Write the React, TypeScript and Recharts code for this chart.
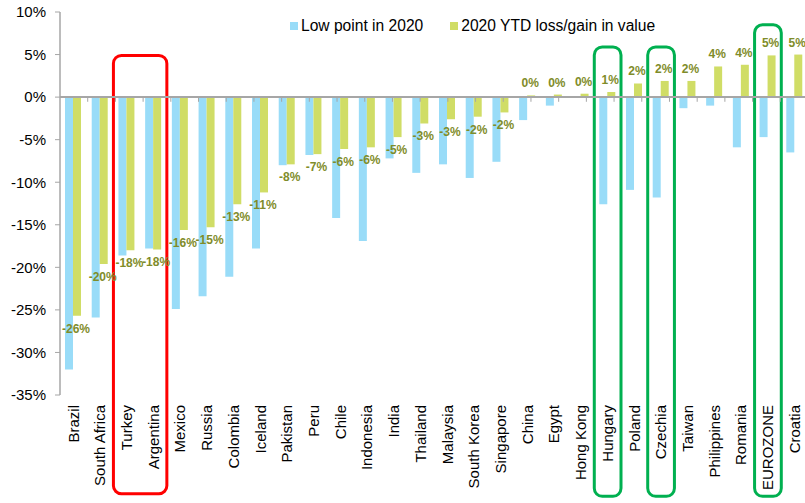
import React from 'react';
import {
    BarChart,
    Bar,
    XAxis,
    YAxis,
    Legend,
    LabelList,
    ReferenceLine,
    ReferenceArea,
} from 'recharts';

const countries = [
    'Brazil', 'South Africa', 'Turkey', 'Argentina', 'Mexico', 'Russia', 'Colombia',
    'Iceland', 'Pakistan', 'Peru', 'Chile', 'Indonesia', 'India', 'Thailand',
    'Malaysia', 'South Korea', 'Singapore', 'China', 'Egypt', 'Hong Kong', 'Hungary',
    'Poland', 'Czechia', 'Taiwan', 'Philippines', 'Romania', 'EUROZONE', 'Croatia',
];

const lowPoint = [
    -32.0, -25.9, -18.6, -17.8, -24.9, -23.4, -21.1, -17.8, -8.0, -6.8, -14.2, -16.9,
    -7.2, -8.9, -7.9, -9.5, -7.6, -2.7, -1.0, -0.1, -12.6, -10.9, -11.8, -1.3, -1.0,
    -5.9, -4.7, -6.5,
];

const ytdChange = [
    -25.7, -19.6, -18.0, -17.9, -15.6, -15.3, -12.6, -11.2, -7.9, -6.7, -6.1, -5.9,
    -4.7, -3.1, -2.6, -2.3, -1.8, 0.2, 0.3, 0.4, 0.6, 1.6, 1.9, 1.9, 3.6, 3.8, 4.9, 5.0,
];

const yTicks = [10, 5, 0, -5, -10, -15, -20, -25, -30, -35];

// highlighted groups: [first, last, top value]
const redBoxes = [['Turkey', 'Argentina', 4.9]];
const greenBoxes = [['Hungary', 'Hungary', 5.9], ['Czechia', 'Czechia', 5.9], ['EUROZONE', 'EUROZONE', 8.5]];

const BLUE = '#99DCF8';
const GREEN = '#D0DD66';
const LABEL = '#7F8C2A';
const AXIS = '#A6A6A6';
const FONT = '"Liberation Sans", Arial, sans-serif';

const data = countries.map((name, i) => ({ name, low: lowPoint[i], ytd: ytdChange[i] }));

const CountryTick = (props: any) => {
    const { x, y, payload } = props;
    return (
        <text
            x={x}
            y={y}
            transform={`rotate(-90, ${x}, ${y})`}
            textAnchor="end"
            dy="0.35em"
            fontSize={15}
            fontFamily={FONT}
            fill="#000"
        >
            {payload.value}
        </text>
    );
};

const YtdLabel = (props: any) => {
    const { x, y, width, height, value } = props;
    const top = Math.min(y, y + height);
    const bottom = Math.max(y, y + height);
    const ty = value < 0 ? bottom + 17 : top - 8;
    return (
        <text
            x={x + width / 2 - 1}
            y={ty}
            textAnchor="middle"
            fontSize={12}
            fontWeight="bold"
            fontFamily={FONT}
            fill={LABEL}
        >
            {`${Math.round(value)}%`}
        </text>
    );
};

const LegendBox = () => (
    <div style={{ display: 'flex', alignItems: 'center', fontFamily: FONT, fontSize: 15.6, color: '#000' }}>
        <span style={{ width: 8, height: 8, background: BLUE, marginRight: 3 }} />
        <span style={{ marginRight: 27 }}>Low point in 2020</span>
        <span style={{ width: 8, height: 8, background: GREEN, marginRight: 3 }} />
        <span>2020 YTD loss/gain in value</span>
    </div>
);

const roundedBox = (color: string) => (p: any) => (
    <rect
        x={p.x}
        y={p.y}
        width={p.width}
        height={p.height}
        rx={8}
        ry={8}
        fill="none"
        stroke={color}
        strokeWidth={3}
    />
);

export default function App() {
    return (
        <div style={{ position: 'absolute', left: 0, top: 0, width: 805, height: 503, overflow: 'hidden', background: '#fff' }}>
            <BarChart
                width={812}
                height={503}
                data={data}
                margin={{ top: 12, right: 4, bottom: 8, left: 0 }}
                barSize={8}
                barGap={0}
            >
                <XAxis
                    xAxisId="cat"
                    dataKey="name"
                    interval={0}
                    axisLine={false}
                    tickLine={false}
                    tickSize={0}
                    tickMargin={10}
                    height={100}
                    tick={<CountryTick />}
                />
                <XAxis xAxisId="num" type="number" domain={[0, countries.length]} allowDataOverflow hide />
                <YAxis
                    domain={[-35, 10]}
                    ticks={yTicks}
                    interval={0}
                    width={60}
                    allowDataOverflow
                    axisLine={{ stroke: AXIS, strokeWidth: 1.5 }}
                    tickLine={{ stroke: AXIS }}
                    tickSize={5}
                    tickMargin={9}
                    tickFormatter={(v: number) => `${v}%`}
                    tick={{ fontSize: 15, fontFamily: FONT, fill: '#000' }}
                />
                <Legend
                    layout="horizontal"
                    verticalAlign="middle"
                    align="center"
                    wrapperStyle={{ top: 17, left: 290, width: 'auto' }}
                    content={<LegendBox />}
                />
                <Bar xAxisId="cat" dataKey="low" name="Low point in 2020" fill={BLUE} isAnimationActive={false} />
                <Bar xAxisId="cat" dataKey="ytd" name="2020 YTD loss/gain in value" fill={GREEN} isAnimationActive={false}>
                    <LabelList dataKey="ytd" content={<YtdLabel />} />
                </Bar>
                <ReferenceLine xAxisId="cat" y={0} stroke={AXIS} strokeWidth={2} />
                {countries.map((c, i) => (
                    <ReferenceLine
                        key={`t-${c}`}
                        xAxisId="num"
                        segment={[{ x: i + 1, y: 0 }, { x: i + 1, y: -0.55 }]}
                        stroke={AXIS}
                        strokeWidth={1}
                        ifOverflow="visible"
                    />
                ))}
                {redBoxes.map(([a, b, top]) => (
                    <ReferenceArea
                        key={`r-${a}`}
                        xAxisId="cat"
                        x1={a as string}
                        x2={b as string}
                        y1={top as number}
                        y2={-46.6}
                        ifOverflow="visible"
                        shape={roundedBox('#FF0000')}
                    />
                ))}
                {greenBoxes.map(([a, b, top]) => (
                    <ReferenceArea
                        key={`g-${a}`}
                        xAxisId="cat"
                        x1={a as string}
                        x2={b as string}
                        y1={top as number}
                        y2={-46.9}
                        ifOverflow="visible"
                        shape={roundedBox('#00B050')}
                    />
                ))}
            </BarChart>
        </div>
    );
}
